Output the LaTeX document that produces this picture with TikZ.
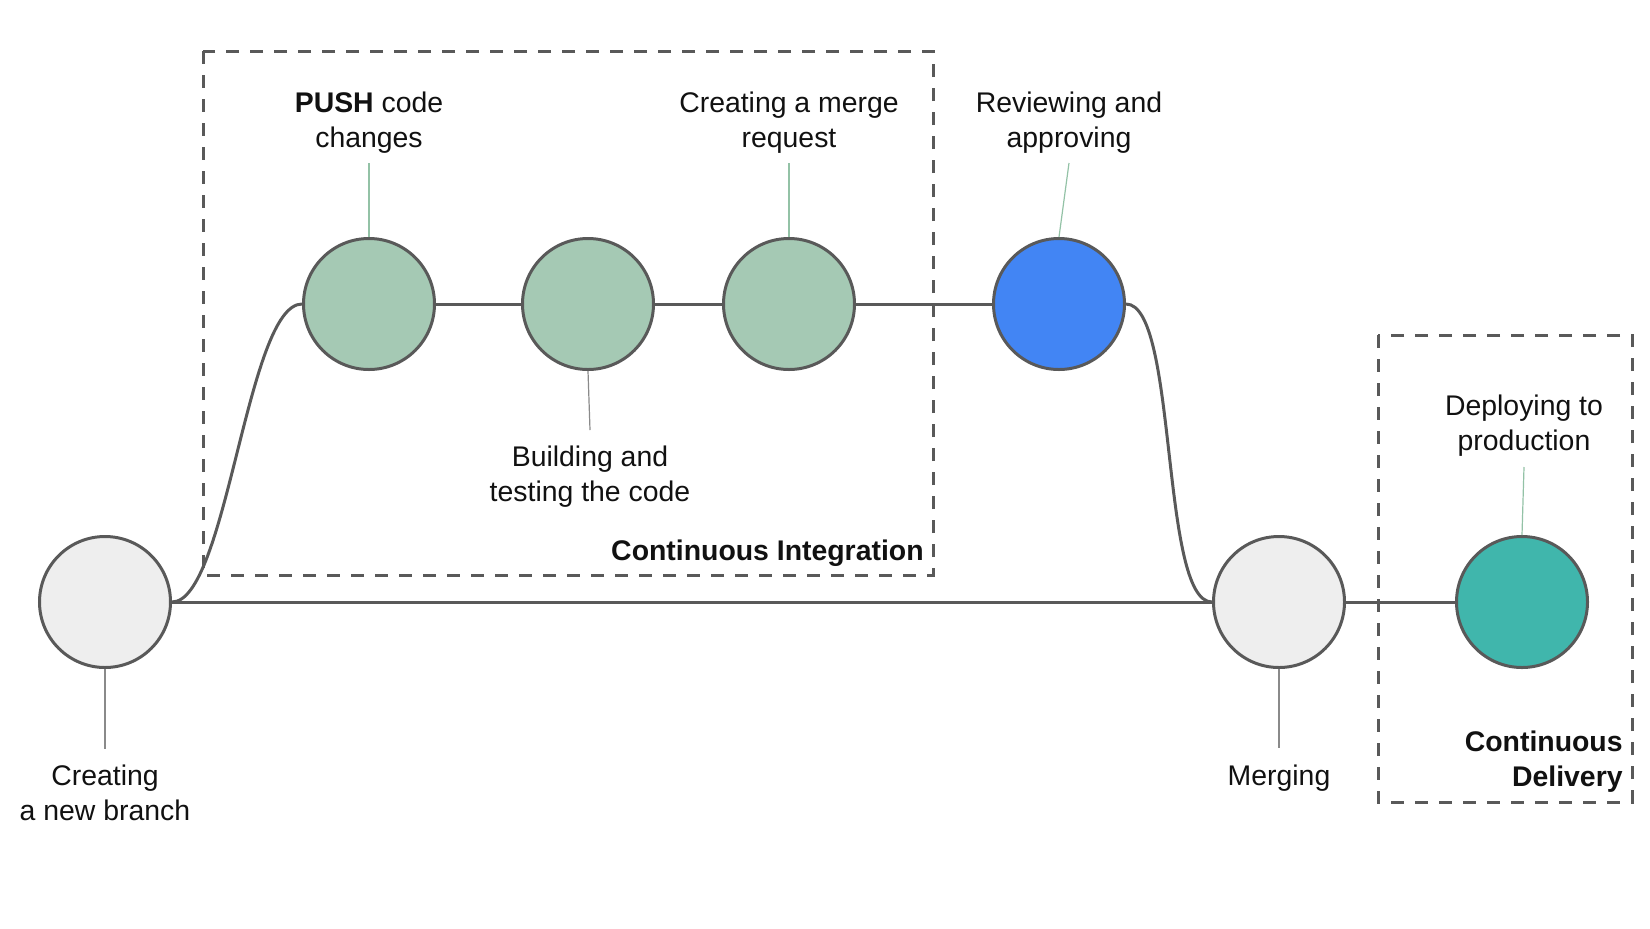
\documentclass[tikz,border=0pt]{standalone}
\usepackage{fontspec}
\setmainfont{Liberation Sans}
\definecolor{greenfill}{HTML}{A5C9B4}
\definecolor{bluefill}{HTML}{4285F4}
\definecolor{tealfill}{HTML}{40B6AC}
\definecolor{greyfill}{HTML}{EEEEEE}
\definecolor{edgegray}{HTML}{595959}
\definecolor{tickgreen}{HTML}{93C2A6}
\definecolor{tickgray}{HTML}{8A8A8A}
\definecolor{txt}{HTML}{111111}
\begin{document}
\begin{tikzpicture}[x=0.5pt,y=-0.5pt,
  dot/.style={circle,draw=edgegray,line width=1.5pt,minimum size=65.5pt,inner sep=0pt},
  flow/.style={draw=edgegray,line width=1.5pt},
  tickg/.style={draw=tickgreen,line width=0.6pt},
  tickk/.style={draw=tickgray,line width=0.6pt},
  lbl/.style={align=center,font=\fontsize{14.2}{17.4}\selectfont,text=txt,inner sep=0pt},
  zone/.style={draw=edgegray,line width=1.5pt,dash pattern=on 6.5pt off 5.5pt}]
\useasboundingbox (0,0) rectangle (1650,928);
% circles
\node[dot,fill=greyfill] (nb) at (105,602) {};
\node[dot,fill=greenfill] (push) at (369,304) {};
\node[dot,fill=greenfill] (build) at (588,304) {};
\node[dot,fill=greenfill] (mr) at (789,304) {};
\node[dot,fill=bluefill] (rev) at (1059,304) {};
\node[dot,fill=greyfill] (mg) at (1279,602) {};
\node[dot,fill=tealfill] (dep) at (1522,602) {};
% flow lines
\draw[flow] (nb.east) -- (mg.west);
\draw[flow] (nb.east) .. controls +(55,0) and +(-55,0) .. (push.west);
\draw[flow] (push.east) -- (build.west);
\draw[flow] (build.east) -- (mr.west);
\draw[flow] (mr.east) -- (rev.west);
\draw[flow] (rev.east) .. controls +(52,0) and +(-52,0) .. (mg.west);
\draw[flow] (mg.east) -- (dep.west);
% zones
\draw[zone] (203,51) rectangle (933,575);
\draw[zone] (1378,335) rectangle (1632,802);
% labels
\node[lbl] (tpush) at (369,123) {\textbf{PUSH} code\\changes};
\node[lbl] (tmr) at (789,123) {Creating a merge\\request};
\node[lbl] (trev) at (1069,123) {Reviewing and\\approving};
\node[lbl] (tbuild) at (590,477) {Building and\\testing the code};
\node[lbl] (tnb) at (105,793) {Creating\\a new branch};
\node[lbl] (tmg) at (1279,778) {Merging};
\node[lbl] (tdep) at (1524,426) {Deploying to\\production};
\node[lbl,anchor=east,font=\bfseries\fontsize{14.2}{17.4}\selectfont] (tci) at (924,553) {Continuous Integration};
\node[lbl,anchor=east,align=right,font=\bfseries\fontsize{14.2}{17.4}\selectfont] (tcd) at (1623,762) {Continuous\\Delivery};
% ticks
\coordinate (cpush) at (369,163);
\coordinate (cmr) at (789,163);
\coordinate (crev) at (1069,163);
\coordinate (cbuild) at (590,430);
\coordinate (cnb) at (105,749);
\coordinate (cmg) at (1279,748);
\coordinate (cdep) at (1524,467);
\draw[tickg] (cpush) -- (push.north);
\draw[tickg] (cmr) -- (mr.north);
\draw[tickg] (crev) -- (rev.north);
\draw[tickk] (build.south) -- (cbuild);
\draw[tickk] (nb.south) -- (cnb);
\draw[tickk] (mg.south) -- (cmg);
\draw[tickg] (cdep) -- (dep.north);
\end{tikzpicture}
\end{document}
